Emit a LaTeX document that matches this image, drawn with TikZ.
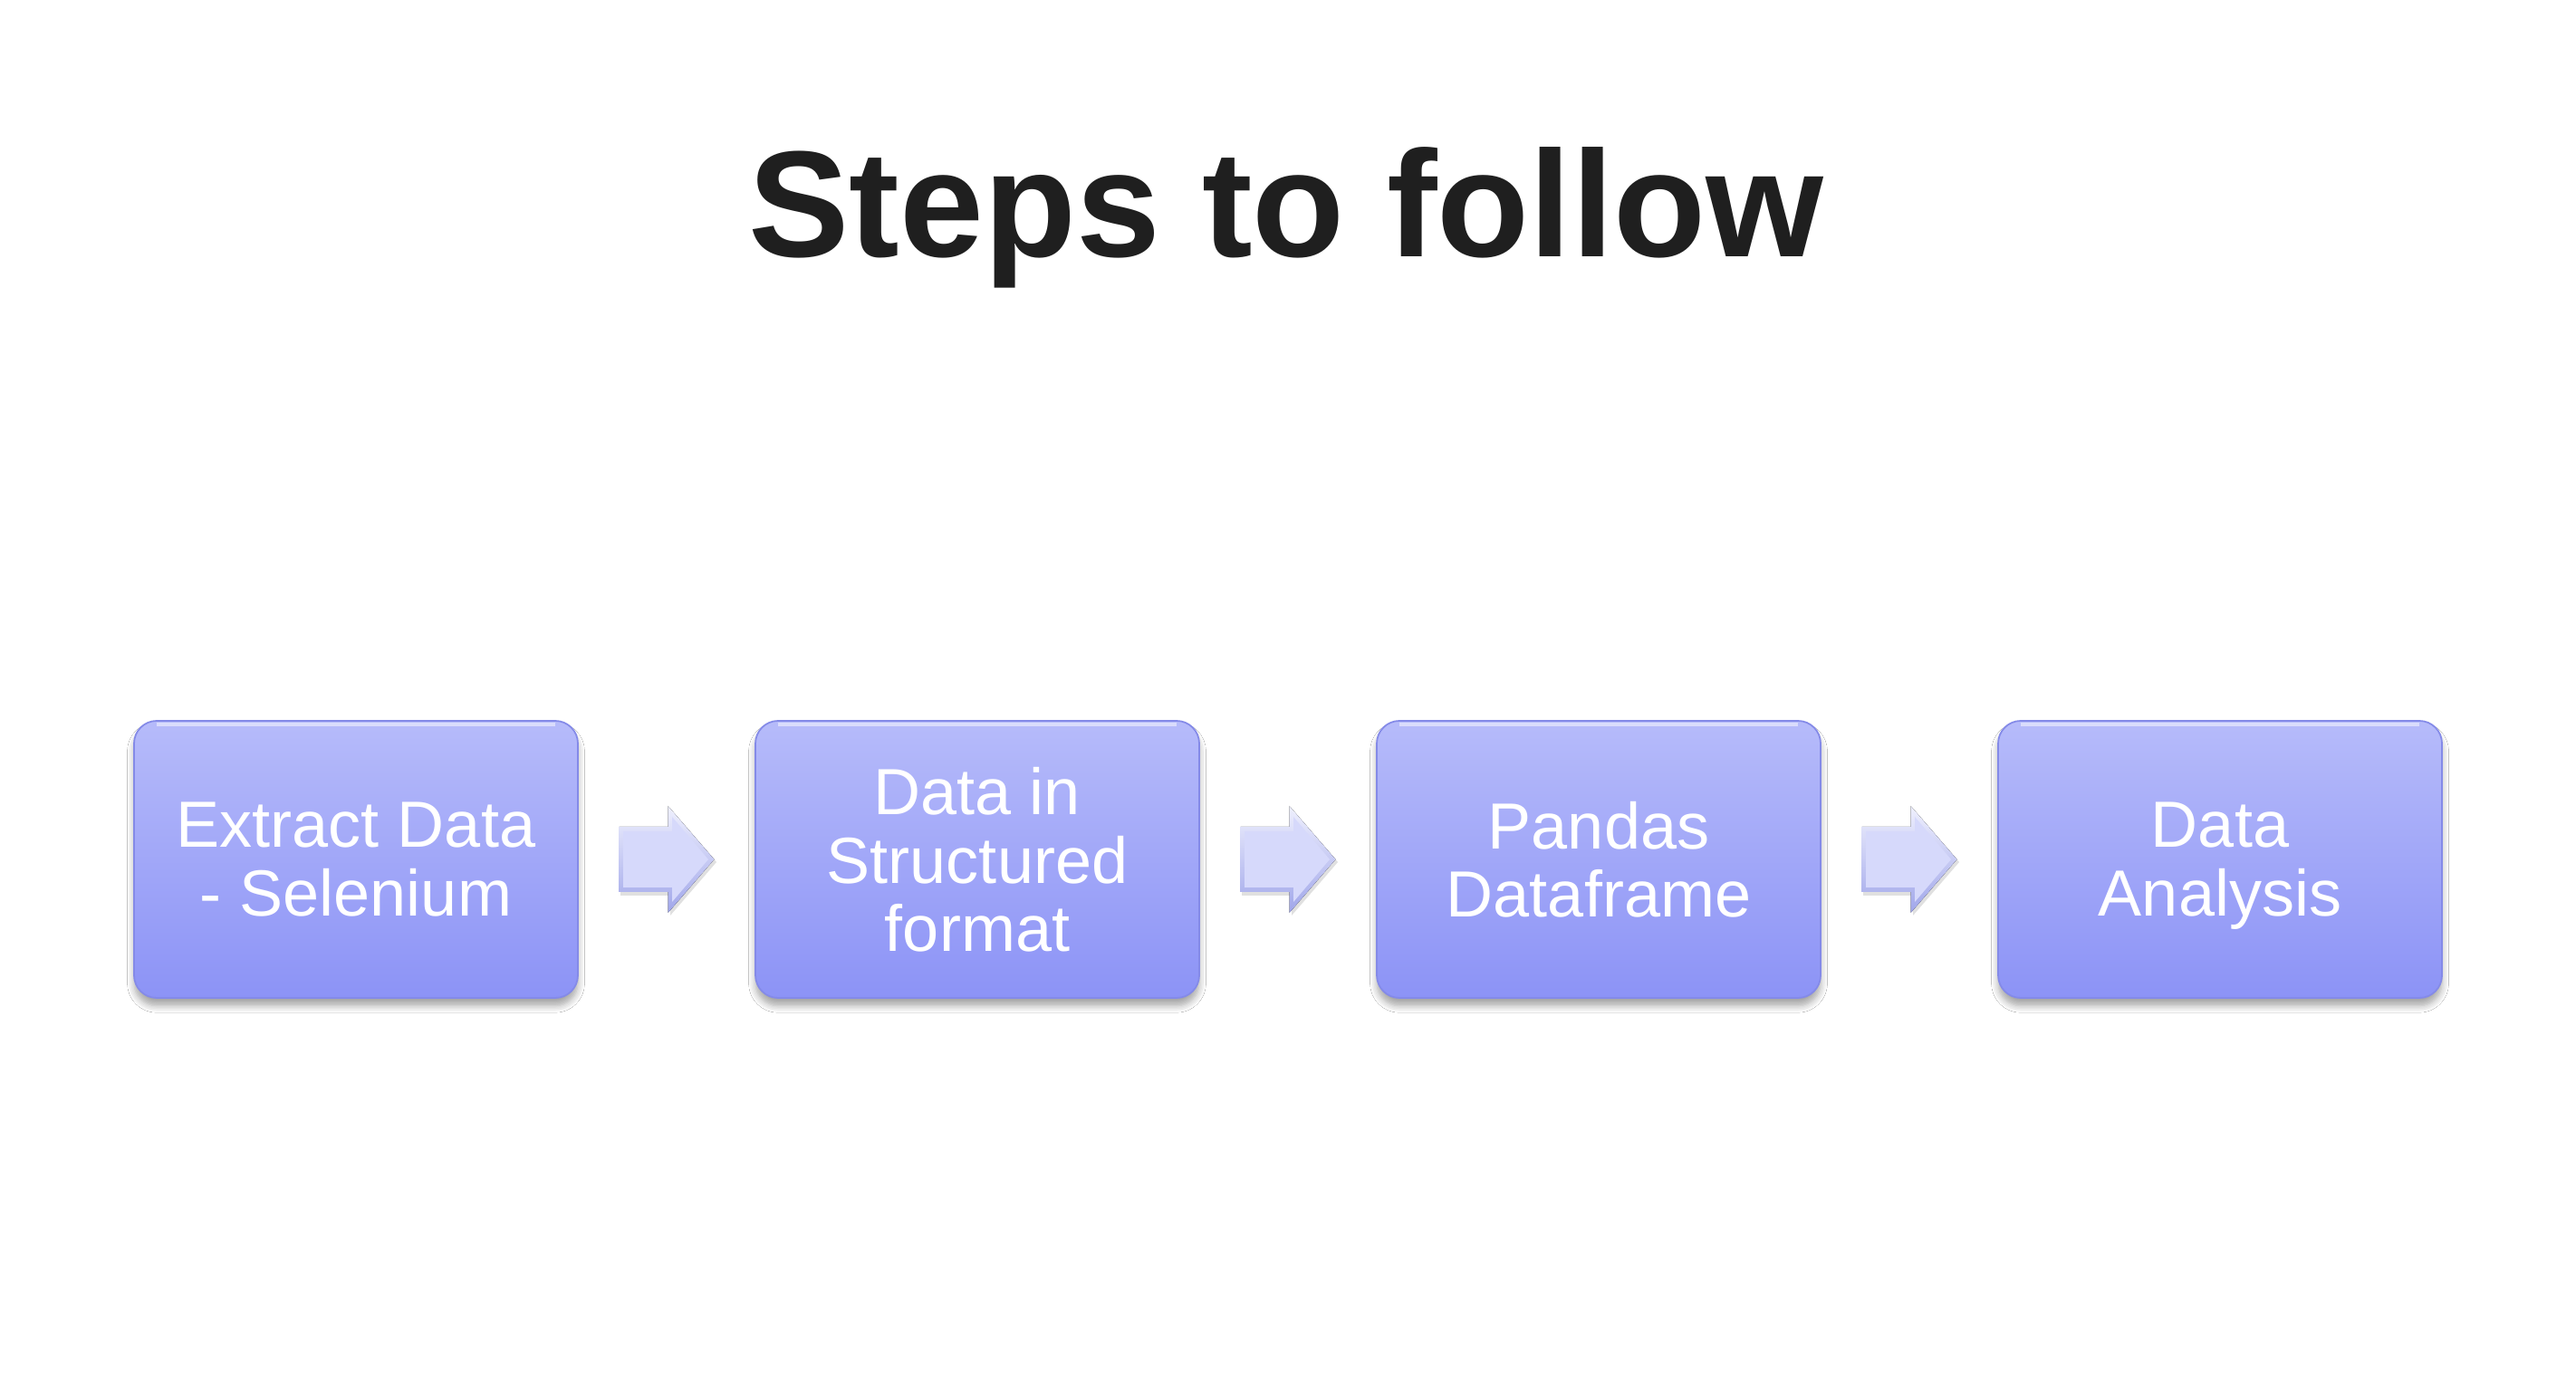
\documentclass[tikz,border=0pt]{standalone}
\usepackage{fontspec}
\setmainfont{Liberation Sans}
\usetikzlibrary{positioning,calc,shadows.blur}

\definecolor{boxtop}{RGB}{182,187,250}
\definecolor{boxbottom}{RGB}{140,147,246}
\definecolor{boxedge}{RGB}{132,138,232}
\definecolor{arrowfill}{RGB}{214,217,251}
\definecolor{arrowedge}{RGB}{160,166,234}
\definecolor{titlegray}{RGB}{31,31,31}

\tikzset{
  stepbox/.style={rectangle, rounded corners=0.25cm,
    minimum width=4.9cm, minimum height=3.06cm,
    top color=boxtop, bottom color=boxbottom, draw=boxedge, line width=0.5pt,
    text=white, align=center, inner sep=0pt, outer sep=0pt, text depth=0pt,
    font=\fontsize{20.5}{21.5}\selectfont,
    blur shadow={shadow xshift=0pt, shadow yshift=-2.5pt,
      shadow blur steps=6, shadow opacity=35}},
  pics/flowarrow/.style={code={
    % soft shadow, bevel rim, face
    \fill[black, opacity=0.12] (-0.51,0.33) -- (0.04,0.33) -- (0.04,0.56) -- (0.55,-0.03)
      -- (0.04,-0.62) -- (0.04,-0.40) -- (-0.51,-0.40) -- cycle;
    \fill[top color=arrowfill!40!white, bottom color=arrowedge]
      (-0.525,0.36) -- (0.015,0.36) -- (0.015,0.59) -- (0.525,0)
      -- (0.015,-0.59) -- (0.015,-0.36) -- (-0.525,-0.36) -- cycle;
    \fill[arrowfill] (-0.48,0.31) -- (0.06,0.31) -- (0.06,0.47) -- (0.46,0)
      -- (0.06,-0.47) -- (0.06,-0.31) -- (-0.48,-0.31) -- cycle;
  }}
}

\begin{document}
\begin{tikzpicture}
  \fill[white] (0,0) rectangle (28.44,15.24);

  \node[font=\fontsize{47.5}{57}\selectfont\bfseries, text=titlegray, anchor=base]
    (title) at (14.2,12.4) {Steps to follow};

  \node[stepbox] (extract) at (3.93,5.75) {Extract Data\\- Selenium};
  \node[stepbox, right=1.96cm of extract] (structured) {Data in\\Structured\\format};
  \node[stepbox, right=1.96cm of structured] (pandas) {Pandas\\Dataframe};
  \node[stepbox, right=1.96cm of pandas] (analysis) {Data\\Analysis};

  % top highlight
  \draw[white, opacity=0.5, line width=1pt] ([xshift=0.25cm, yshift=-0.04cm]extract.north west) -- ([xshift=-0.25cm, yshift=-0.04cm]extract.north east);
  \draw[white, opacity=0.5, line width=1pt] ([xshift=0.25cm, yshift=-0.04cm]structured.north west) -- ([xshift=-0.25cm, yshift=-0.04cm]structured.north east);
  \draw[white, opacity=0.5, line width=1pt] ([xshift=0.25cm, yshift=-0.04cm]pandas.north west) -- ([xshift=-0.25cm, yshift=-0.04cm]pandas.north east);
  \draw[white, opacity=0.5, line width=1pt] ([xshift=0.25cm, yshift=-0.04cm]analysis.north west) -- ([xshift=-0.25cm, yshift=-0.04cm]analysis.north east);

  \pic at ($(extract.east)!0.5!(structured.west)$) {flowarrow};
  \pic at ($(structured.east)!0.5!(pandas.west)$) {flowarrow};
  \pic at ($(pandas.east)!0.5!(analysis.west)$) {flowarrow};
\end{tikzpicture}
\end{document}
